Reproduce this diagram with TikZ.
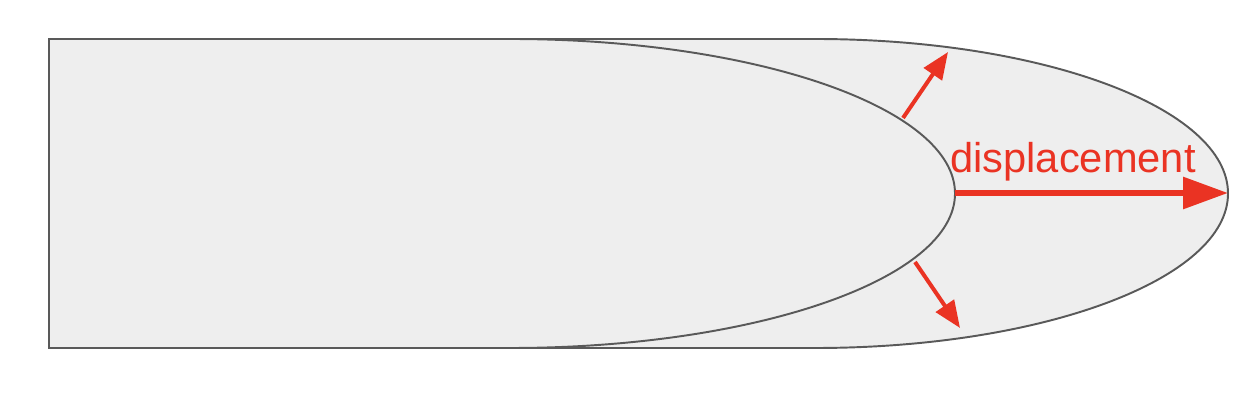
\documentclass[tikz,border=0pt]{standalone}
\usepackage{fontspec}
\setmainfont{Liberation Sans}
\usepackage{tikz}
\usetikzlibrary{arrows.meta}
\definecolor{shapegray}{HTML}{EEEEEE}
\definecolor{edgegray}{HTML}{595959}
\definecolor{dispred}{HTML}{EA3323}

\begin{document}
\begin{tikzpicture}[
    x=0.02cm, y=0.02cm,
    body/.style={draw=edgegray, fill=shapegray, line width=1.1pt},
    bigarrow/.style={draw=dispred, line width=0.12cm, -{Triangle[length=0.9cm, width=0.62cm]}},
    smallarrow/.style={draw=dispred, line width=0.08cm, -{Triangle[length=0.54cm, width=0.43cm]}}
]
\useasboundingbox (0,0) rectangle (1256,402);

% Shapes
\draw[body] (49,363) -- (815,363) arc[start angle=90, end angle=-90, x radius=413, y radius=154.5] -- (49,54) -- cycle;
\draw[body] (510,363) arc[start angle=90, end angle=-90, x radius=445, y radius=154.5];

% Points
\coordinate (tipin) at (955,209);
\coordinate (tipout) at (1228,209);
\coordinate (upstart) at (903,284);
\coordinate (upend) at (948,350);
\coordinate (downstart) at (915,140);
\coordinate (downend) at (960,74);

% Arrows
\draw[bigarrow] (tipin) -- (tipout);
\draw[smallarrow] (upstart) -- (upend);
\draw[smallarrow] (downstart) -- (downend);

% Label
\node[anchor=base west, inner sep=0pt, text=dispred, font=\fontsize{23.7pt}{28pt}\selectfont] (disp) at (950,229) {displacement};
\end{tikzpicture}
\end{document}
